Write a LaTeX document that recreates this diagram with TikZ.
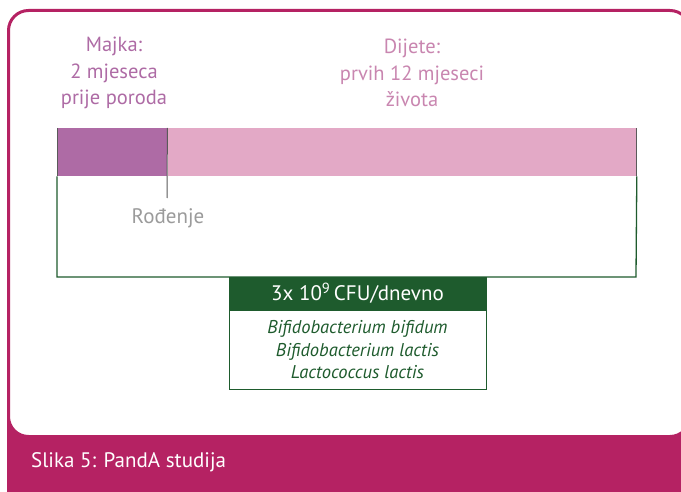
\documentclass[tikz,border=0pt]{standalone}
\usepackage{fontspec}
\setmainfont{PT Sans}
\usetikzlibrary{positioning}
\definecolor{pdmagenta}{HTML}{B52263}
\definecolor{pdplum}{HTML}{AE6BA5}
\definecolor{pdpink}{HTML}{E3A9C6}
\definecolor{pdrose}{HTML}{C986B0}
\definecolor{pdgreen}{HTML}{1E5B2D}
\definecolor{pdgrey}{HTML}{9B9B9B}
\definecolor{pdtick}{HTML}{5A5A5A}

\begin{document}
\begin{tikzpicture}[
  x=1pt, y=-1pt,
  phase/.style  = {align=center, inner sep=0pt, font=\fontsize{20.5}{26.5}\selectfont},
  bar/.style    = {rectangle, inner sep=0pt, minimum height=48pt, anchor=north west},
  frame/.style  = {draw=pdgreen, line width=1.3pt},
  tick/.style   = {draw=pdtick, line width=1pt},
  dose/.style   = {rectangle, draw=pdgreen, line width=0.9pt, inner sep=0pt,
                   minimum width=257pt, align=center},
]
\useasboundingbox (0,0) rectangle (681,492);
% panel and caption band
\fill[pdmagenta] (7,380) rectangle (681,492);
\draw[pdmagenta, line width=3pt, fill=white, rounded corners=20pt]
  (8.5,10.5) rectangle (690,436.5);
\node[anchor=west, inner sep=0pt, text=white, font=\fontsize{21}{24}\selectfont]
  (caption) at (31,462) {Slika 5: PandA studija};

% phase labels
\node[phase, text=pdplum] (mother label) at (114,73) {Majka:\\2 mjeseca\\prije poroda};
\node[phase, text=pdrose] (child label) at (412,73) {Dijete:\\prvih 12 mjeseci\\života};

% timeline
\node[bar, fill=pdplum, minimum width=110pt] (mother) at (57,128) {};
\node[bar, fill=pdpink, minimum width=469pt] (child) at (mother.north east) {};
\coordinate (birth tick) at (167,198);
\draw[tick] (mother.north east) -- (birth tick);
\draw[tick] (mother.north west) -- (mother.south west);
\node[phase, text=pdgrey, font=\fontsize{21}{24}\selectfont] (birth) at (168,218) {Rođenje};

% frame
\coordinate (frame bl) at (57,277);
\coordinate (frame br) at (636,277);
\draw[frame] (mother.south west) -- (frame bl) -- (frame br) -- (child.south east);
\draw[tick] (child.south east) -- (child.north east);

% dose boxes
\node[dose, fill=pdgreen, text=white, minimum height=32pt, anchor=north,
      font=\fontsize{21}{24}\selectfont] (dose) at (357.5,277)
  {3x 10\textsuperscript{9}\,CFU/dnevno};
\node[dose, fill=white, text=pdgreen, minimum height=79pt, below=0pt of dose,
      font=\itshape\fontsize{18.5}{22.5}\selectfont] (strains)
  {Bifidobacterium bifidum\\Bifidobacterium lactis\\Lactococcus lactis};
\end{tikzpicture}
\end{document}
